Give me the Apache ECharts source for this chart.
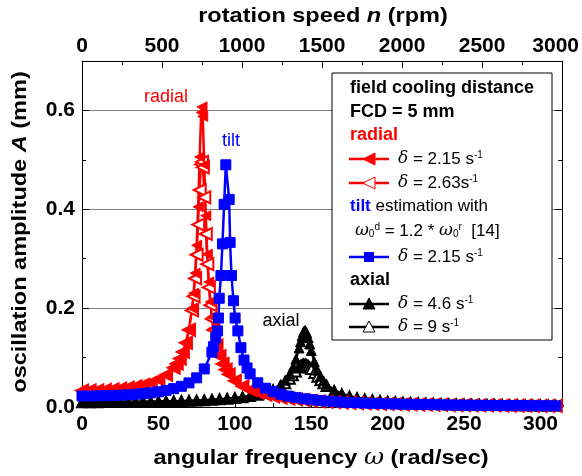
<!DOCTYPE html>
<html>
	<head>
		<meta charset="utf-8" />
		<title></title>
		<style>
			html,body{margin:0;padding:0;background:#fff;}
			#chart{width:582px;height:476px;}
		</style>
	</head>
	<body>
		<div id="chart"></div>
	</body>
	<script src="https://cdn.jsdelivr.net/npm/echarts/dist/echarts.min.js" type="text/javascript" charset="utf-8"></script>
	<script type="text/javascript">
		// angular frequency (rad/s) of each curve
		var radialW = [0,5,10,15,20,25,30,35,40,45,50,55,60,62,64,66,68,70,72,73,74,75,76,77,78,78.5,79,80,81,82,83,84,85,86,88,90,92,94,96,100,105,110,115,120,125,130,135,140,145,150,155,160,165,170,175,180,185,190,195,200,205,210,215,220,225,230,235,240,245,250,255,260,265,270,275,280,285,290,295,300,305,310,315];
		var tiltW = [0,5,10,15,20,25,30,35,40,45,50,55,60,65,70,75,80,85,86,87.5,88.7,89.3,89.8,90.9,91.9,93.0,94.1,96.3,96.9,97.8,99.1,100.2,102,104,106,108,110,115,120,125,130,135,140,145,150,155,160,165,170,175,180,185,190,195,200,205,210,215,220,225,230,235,240,245,250,255,260,265,270,275,280,285,290,295,300,305,310,315];
		var axialW = [0,5,10,15,20,25,30,35,40,45,50,55,60,65,70,75,80,85,90,95,100,105,110,115,120,125,130,133,136,138,140,142,143,144,145,146,147,148,149,150,152,154,156,158,160,165,170,175,180,185,190,195,200,205,210,215,220,225,230,235,240,245,250,255,260,265,270,275,280,285,290,295,300,305,310,315];

		// amplitude A (mm)
		var radial215 = [0.0333,0.0334,0.0338,0.0345,0.0356,0.0370,0.0390,0.0415,0.0449,0.0496,0.0560,0.0653,0.0796,
			0.0879,0.0984,0.1121,0.1309,0.158,0.1998,
			0.230,0.271,0.327,0.405,0.506,0.596,0.607,
			0.588,0.490,0.387,0.309,0.253,0.213,0.182,0.159,
			0.126,0.1037,0.0878,0.0758,0.0665,0.0531,
			0.0420,0.0345,0.0290,0.0249,0.0217,0.0191,0.0170,0.0153,0.0138,0.0125,0.0115,0.0105,0.0097,0.0090,0.0084,0.0078,0.0073,0.0068,0.0064,0.0061,0.0057,0.0054,0.0051,0.0049,0.0046,0.0044,0.0042,0.0040,0.0038,0.0036,0.0035,0.0033,0.0032,0.0031,0.0030,0.0028,0.0027,0.0026,0.0025,0.0024,0.0024,0.0023,0.0022];
		var radial263 = [0.0333,0.0334,0.0338,0.0345,0.0356,0.0370,0.0390,0.0415,0.0449,0.0495,0.0558,0.0651,0.0794,
			0.0876,0.0979,0.1115,0.1298,0.1559,0.1954,
			0.224,0.260,0.308,0.369,0.439,0.491,0.496,
			0.485,0.424,0.350,0.289,0.242,0.206,0.178,0.156,
			0.124,0.1028,0.0872,0.0754,0.0662,0.0529,
			0.0419,0.0344,0.0290,0.0249,0.0217,0.0191,0.0170,0.0153,0.0138,0.0125,0.0115,0.0105,0.0097,0.0090,0.0084,0.0078,0.0073,0.0068,0.0064,0.0061,0.0057,0.0054,0.0051,0.0049,0.0046,0.0044,0.0042,0.0040,0.0038,0.0036,0.0035,0.0033,0.0032,0.0031,0.0030,0.0028,0.0027,0.0026,0.0025,0.0024,0.0024,0.0023,0.0022];
		var tilt215 = [0.0223,0.0223,0.0225,0.0228,0.0233,0.0239,0.0247,0.0258,0.0271,0.0287,0.0308,0.0335,0.0371,0.0419,0.0488,0.059,0.077,0.111,
			0.122,0.140,0.154,0.18,0.22,0.266,0.33,0.41,0.49,0.42,0.333,0.266,0.215,0.18,0.154,0.12,0.095,0.079,0.067,
			0.049,0.038,0.031,0.0258,0.022,0.019,0.0167,0.0149,0.0133,0.0120,0.0110,0.0100,0.0092,0.0085,0.0079,0.0074,0.0069,0.0064,0.0061,0.0057,0.0054,0.0051,0.0048,0.0046,0.0043,0.0041,0.0039,0.0037,0.0036,0.0034,0.0033,0.0031,0.0030,0.0029,0.0028,0.0027,0.0026,0.0025,0.0024,0.0023,0.0022];
		var axial46 = [0.0098,0.0098,0.0098,0.0099,0.0099,0.0101,0.0102,0.0104,0.0105,0.0108,0.0111,0.0114,0.0117,0.0122,0.0127,0.0133,0.0139,0.0148,0.0157,0.0169,0.0184,0.0202,0.0226,0.0257,0.0297,0.0358,0.0455,
			0.0543,0.0674,0.0799,0.0969,0.1194,0.132,0.1438,0.1524,0.1549,0.1504,0.1402,0.1275,0.1144,0.0916,0.0746,0.0622,0.0530,0.0459,
			0.0341,0.0269,0.0220,0.0186,0.0160,0.0140,0.0124,0.0111,0.0100,0.0091,0.0084,0.0077,0.0071,0.0066,0.0061,0.0057,0.0054,0.0051,0.0048,0.0045,0.0043,0.0040,0.0038,0.0036,0.0035,0.0033,0.0032,0.0030,0.0029,0.0028,0.0027];
		var axial9 = [0.0098,0.0098,0.0098,0.0099,0.0099,0.0101,0.0102,0.0104,0.0105,0.0108,0.0110,0.0114,0.0117,0.0122,0.0126,0.0132,0.0139,0.0147,0.0156,0.0168,0.0182,0.0199,0.0221,0.0249,0.0287,0.0340,0.0416,
			0.048,0.057,0.064,0.072,0.080,0.083,0.085,0.086,0.086,0.085,0.083,0.080,0.077,0.069,0.061,0.054,0.048,0.0425,
			0.0325,0.0258,0.0214,0.0180,0.0156,0.0137,0.0122,0.0109,0.0099,0.0090,0.0083,0.0076,0.0070,0.0065,0.0061,0.0057,0.0053,0.0050,0.0047,0.0045,0.0042,0.0040,0.0038,0.0036,0.0035,0.0033,0.0032,0.0030,0.0029,0.0028,0.0027];

		var xTicks = [0,50,100,150,200,250,300];
		var rpmTicks = [0,500,1000,1500,2000,2500,3000];
		var yTicks = [0.0,0.2,0.4,0.6];

		var font = 'Arial, "Liberation Sans", sans-serif';
		var serif = '"DejaVu Serif", serif';
		var RED = '#ff0000', BLUE = '#0000ff', BLACK = '#000000';

		function pairs(w, a){
			var out = [];
			for (var i = 0; i < w.length; i++) {
				out.push([w[i], a[i]]);
			}
			return out;
		}

		function curve(name, w, a, color, symbol, size, rot, lw){
			return {
				name: name,
				type: 'line',
				data: pairs(w, a),
				symbol: symbol,
				symbolSize: size,
				symbolRotate: rot,
				showSymbol: true,
				clip: true,
				lineStyle: {color: color, width: lw},
				itemStyle: {color: color, borderColor: color, borderWidth: 1},
				emphasis: {disabled: true}
			};
		}

		var supRich = {
			d: {fontFamily: serif, fontStyle: 'italic', fontSize: 17},
			w: {fontFamily: serif, fontStyle: 'italic', fontSize: 17},
			sup: {fontSize: 10, verticalAlign: 'top'},
			sub: {fontSize: 10, verticalAlign: 'bottom'},
			t: {fontWeight: 'bold', fill: BLUE, fontSize: 17}
		};

		function textEl(x, y, text, opt, sx){
			var st = {
				text: text,
				fontFamily: font,
				fontSize: 17,
				fill: BLACK,
				align: 'left',
				verticalAlign: 'middle',
				rich: supRich
			};
			for (var k in opt) st[k] = opt[k];
			return {type: 'text', x: x, y: y, z: 110, scaleX: sx || 1, style: st};
		}

		// a legend row: short line with marker, then the label
		function legendRow(y, color, kind, label){
			var els = [];
			els.push({type: 'line', z: 105, shape: {x1: 349, y1: y, x2: 389, y2: y}, style: {stroke: color, lineWidth: 2.5}});
			var fill = kind.indexOf('Open') > 0 ? '#fff' : color;
			if (kind.indexOf('left') === 0) {
				els.push({type: 'polygon', z: 106, shape: {points: [[363, y], [375, y - 6], [375, y + 6]]}, style: {fill: fill, stroke: color, lineWidth: 1}});
			} else if (kind.indexOf('up') === 0) {
				els.push({type: 'polygon', z: 106, shape: {points: [[369, y - 6], [363, y + 5], [375, y + 5]]}, style: {fill: fill, stroke: color, lineWidth: 1}});
			} else {
				els.push({type: 'rect', z: 106, shape: {x: 364, y: y - 5, width: 10, height: 10}, style: {fill: color}});
			}
			els.push(textEl(398, y, label));
			return els;
		}

		var titleRich = {
			i: {fontStyle: 'italic', fontWeight: 'bold', fontSize: 21, fontFamily: font},
			w: {fontStyle: 'italic', fontFamily: serif, fontSize: 22}
		};

		var graphics = [
			{type: 'rect', z: 100, shape: {x: 332, y: 73, width: 220, height: 267}, style: {fill: '#fff', stroke: BLACK, lineWidth: 1}},
			textEl(350, 88, 'field cooling distance', {fontWeight: 'bold', fontSize: 18}),
			textEl(350, 112, 'FCD = 5 mm', {fontWeight: 'bold', fontSize: 18}),
			textEl(350, 135, 'radial', {fontWeight: 'bold', fill: RED, fontSize: 18}),
			textEl(350, 206, '{t|tilt} estimation with'),
			textEl(355, 231, '{w|ω}{sub|0}{sup|d} = 1.2 * {w|ω}{sub|0}{sup|r}  [14]'),
			textEl(350, 280, 'axial', {fontWeight: 'bold', fontSize: 18}),
			// curve annotations
			textEl(166, 97, 'radial', {fill: RED, fontSize: 18, align: 'center'}),
			textEl(231, 141, 'tilt', {fill: BLUE, fontSize: 18, align: 'center'}),
			textEl(281, 321, 'axial', {fill: BLACK, fontSize: 18, align: 'center'}),
			// axis titles
			textEl(323, 16, 'rotation speed {i|n} (rpm)', {fontWeight: 'bold', fontSize: 21, align: 'center', rich: titleRich}, 1.12),
			textEl(321, 458, 'angular frequency {w|ω} (rad/sec)', {fontWeight: 'bold', fontSize: 21, align: 'center', rich: titleRich}, 1.12),
			{type: 'text', x: 20, y: 232, rotation: Math.PI / 2, scaleX: 1.12, z: 110, style: {
				text: 'oscillation amplitude {i|A} (mm)', fontFamily: font, fontWeight: 'bold', fontSize: 21,
				fill: BLACK, align: 'center', verticalAlign: 'middle', rich: titleRich
			}}
		];
		graphics = graphics
			.concat(legendRow(159, RED, 'left', '{d|δ} = 2.15 s{sup|-1}'))
			.concat(legendRow(183, RED, 'leftOpen', '{d|δ} = 2.63s{sup|-1}'))
			.concat(legendRow(257, BLUE, 'square', '{d|δ} = 2.15 s{sup|-1}'))
			.concat(legendRow(304, BLACK, 'up', '{d|δ} = 4.6 s{sup|-1}'))
			.concat(legendRow(327, BLACK, 'upOpen', '{d|δ} = 9 s{sup|-1}'));

		var tickLabel = {fontFamily: font, fontWeight: 'bold', fontSize: 21, color: BLACK};
		var axisLine = {show: true, onZero: false, lineStyle: {color: BLACK, width: 1}};

		var myChart = echarts.init(document.getElementById('chart'), null, {renderer: 'canvas'});
		var option = {
			animation: false,
			backgroundColor: '#fff',
			grid: {left: 82, right: 17, top: 61, height: 346, containLabel: false},
			xAxis: [{
				type: 'value', position: 'bottom',
				min: xTicks[0], max: 3000 * 2 * Math.PI / 60, interval: 50,
				axisLine: axisLine,
				axisTick: {show: true, inside: true, length: 7, lineStyle: {color: BLACK}},
				minorTick: {show: true, splitNumber: 2, length: 4, lineStyle: {color: BLACK}},
				splitLine: {show: false},
				axisLabel: Object.assign({margin: 7, showMaxLabel: false, formatter: function(v){
					return xTicks.indexOf(v) >= 0 ? String(v) : '';
				}}, tickLabel)
			}, {
				type: 'value', position: 'top',
				min: rpmTicks[0], max: rpmTicks[rpmTicks.length - 1], interval: 500,
				axisLine: axisLine,
				axisTick: {show: true, inside: true, length: 7, lineStyle: {color: BLACK}},
				minorTick: {show: true, splitNumber: 2, length: 4, lineStyle: {color: BLACK}},
				splitLine: {show: false},
				axisLabel: Object.assign({margin: 4, formatter: function(v){
					return v === 3000 ? '{m|3000}' : String(v);
				}, rich: {m: {fontFamily: font, fontWeight: 'bold', fontSize: 21, color: BLACK, padding: [0, 13, 0, 0]}}}, tickLabel)
			}],
			yAxis: [{
				type: 'value', position: 'left',
				min: 0, max: 0.7, interval: 0.2,
				axisLine: axisLine,
				axisTick: {show: true, inside: true, length: 7, lineStyle: {color: BLACK}},
				minorTick: {show: true, splitNumber: 2, length: 4, lineStyle: {color: BLACK}},
				splitLine: {show: true, lineStyle: {color: '#808080', width: 1}},
				axisLabel: Object.assign({margin: 7, formatter: function(v){
					return yTicks.indexOf(Math.round(v * 10) / 10) >= 0 ? v.toFixed(1) : '';
				}}, tickLabel)
			}, {
				type: 'value', position: 'right',
				min: 0, max: 0.7, interval: 0.2,
				axisLine: axisLine,
				axisTick: {show: true, inside: true, length: 7, lineStyle: {color: BLACK}},
				minorTick: {show: true, splitNumber: 2, length: 4, lineStyle: {color: BLACK}},
				splitLine: {show: false},
				axisLabel: {show: false}
			}],
			series: [
				curve('axial 9', axialW, axial9, BLACK, 'emptyTriangle', 10, 0, 2),
				curve('axial 4.6', axialW, axial46, BLACK, 'triangle', 10, 0, 2.5),
				curve('radial 2.63', radialW, radial263, RED, 'emptyTriangle', 12, 90, 2),
				curve('radial 2.15', radialW, radial215, RED, 'triangle', 10, 90, 2.5),
				curve('tilt 2.15', tiltW, tilt215, BLUE, 'rect', 10, 0, 2.5)
			],
			graphic: graphics
		};
		myChart.setOption(option);
	</script>
</html>
